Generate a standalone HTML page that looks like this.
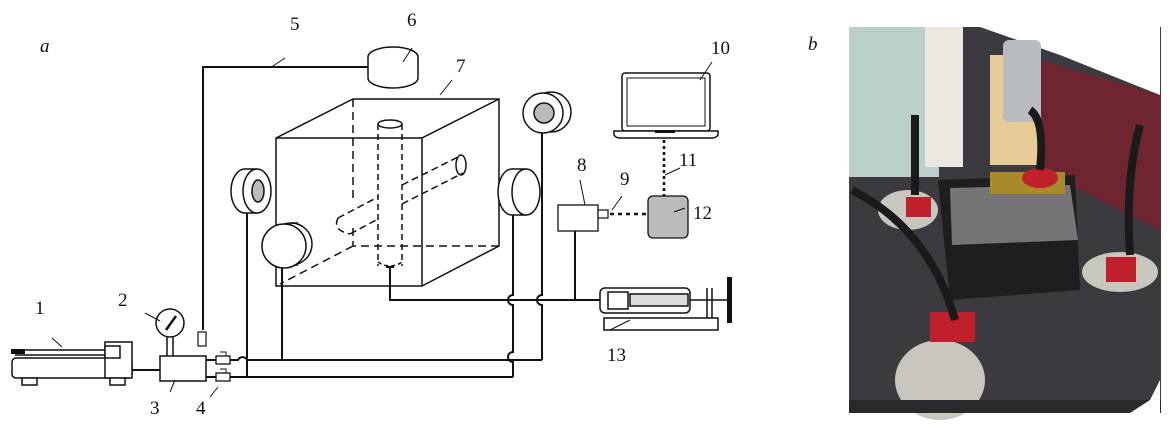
<!DOCTYPE html>
<html><head><style>
html,body{margin:0;padding:0;background:#fff;}
svg{display:block;}
text{font-family:"Liberation Serif",serif;font-size:19px;fill:#111;}
</style></head><body>
<svg width="1173" height="425" viewBox="0 0 1173 425" xmlns="http://www.w3.org/2000/svg">
<g fill="none" stroke="#111" stroke-width="2">
<path d="M203 330 V67 H368"/>
<ellipse cx="393" cy="57" rx="25" ry="10" fill="#fff" stroke-width="1.5"/>
<path d="M368 57 V78 A25 10 0 0 0 418 78 V57" fill="#fff" stroke-width="1.5"/>
<!-- cube -->
<g stroke-width="1.5">
<rect x="276" y="138" width="146" height="148" fill="#fff"/>
<path d="M276 138 L353 99 H499 V246 L422 286 M422 138 L499 99"/>
<path d="M353 99 V200 M353 228 V246 H499 M353 246 L280 284" stroke-dasharray="8 5"/>
<path d="M378 124 V266 M402 124 V266" stroke-dasharray="6 4"/>
<ellipse cx="390" cy="124" rx="12" ry="4" fill="#fff"/>
<path d="M378 262 Q390 270 402 262" stroke-dasharray="4 3"/>
<path d="M390 266 V280 M386 267 H394" stroke-width="2"/>
<path d="M338 218 L378 197 M402 185 L462 155 M350 234 L378 219 M402 204 L463 173 M338 218 Q332 230 350 234" stroke-dasharray="7 4"/>
<ellipse cx="461" cy="165" rx="5" ry="10"/>
</g>
<!-- discs -->
<g stroke-width="1.5">
<ellipse cx="245" cy="191" rx="14" ry="22" fill="#fff"/>
<rect x="245" y="169" width="12" height="44" fill="#fff" stroke="none"/>
<path d="M245 169 H257 M245 213 H257"/>
<ellipse cx="257" cy="191" rx="14" ry="22" fill="#fff"/>
<ellipse cx="258" cy="191" rx="6" ry="11" fill="#bbb"/>
<circle cx="291" cy="244" r="21" fill="#fff"/>
<path d="M291 223 H298 M291 265 H298"/>
<circle cx="284" cy="246" r="22" fill="#fff"/>
<ellipse cx="512" cy="192" rx="14" ry="23" fill="#fff"/>
<rect x="512" y="169" width="14" height="46" fill="#fff" stroke="none"/>
<path d="M512 169 H526 M512 215 H526"/>
<ellipse cx="526" cy="192" rx="14" ry="23" fill="#fff"/>
<circle cx="551" cy="112" r="20" fill="#fff"/>
<circle cx="543" cy="113" r="20" fill="#fff"/>
<circle cx="544" cy="113" r="10" fill="#bbb"/>
</g>
<!-- verticals -->
<path d="M247 213 V377"/>
<path d="M282 268 V360"/>
<path d="M513 215 V295 A5 5 0 0 0 513 305 V352 A5 5 0 0 0 513 362 V377"/>
<path d="M542 133 V295 A5 5 0 0 0 542 305 V360"/>
<path d="M575 231 V300"/>
<path d="M390 280 V300 H600"/>
<path d="M206 360 H238 A5 5 0 0 1 247 360 H542"/>
<path d="M206 377 H513"/>
<path d="M132 370 H160"/>
<!-- pump 1 -->
<g stroke-width="1.5">
<rect x="12" y="358" width="120" height="20" rx="4" fill="#fff"/>
<rect x="105" y="342" width="27" height="36" fill="#fff"/>
<rect x="105" y="346" width="15" height="12" fill="#fff"/>
<rect x="22" y="378" width="15" height="7" fill="#fff"/>
<rect x="110" y="378" width="15" height="7" fill="#fff"/>
<path d="M15 350 H105 M15 355 H105"/>
<path d="M52 338 L62 347" stroke-width="1"/>
</g>
<rect x="11" y="349" width="14" height="5" fill="#111" stroke="none"/>
<rect x="160" y="356" width="46" height="25" fill="#fff" stroke-width="1.5"/>
<path d="M167 356 V336 M173 356 V336" stroke-width="1.5"/>
<circle cx="170" cy="323" r="14" fill="#fff" stroke-width="1.5"/>
<path d="M166 330 L176 316" stroke-width="2.5"/>
<rect x="198" y="332" width="8" height="14" fill="#fff" stroke-width="1.2"/>
<rect x="216" y="356" width="14" height="8" fill="#fff" stroke-width="1.3"/>
<rect x="216" y="373" width="14" height="8" fill="#fff" stroke-width="1.3"/>
<path d="M220 352 H226 V356 M220 369 H226 V373" stroke-width="1"/>
<!-- laptop -->
<rect x="622" y="73" width="88" height="58" rx="3" fill="#fff" stroke-width="1.5"/>
<rect x="627" y="78" width="78" height="48" fill="#fff" stroke-width="1"/>
<path d="M614 131 H718 V135 Q716 138 712 138 H620 Q616 138 614 135 Z" fill="#fff" stroke-width="1.5"/>
<rect x="655" y="130" width="20" height="3" fill="#111" stroke="none"/>
<path d="M664 140 V196" stroke-dasharray="3 3" stroke-width="2.5"/>
<rect x="648" y="196" width="40" height="42" rx="5" fill="#bbb" stroke-width="1.3"/>
<rect x="558" y="205" width="40" height="26" fill="#fff" stroke-width="1.3"/>
<rect x="598" y="210" width="10" height="8" fill="#fff" stroke-width="1.2"/>
<path d="M610 214 H648" stroke-dasharray="4 4" stroke-width="2.5"/>
<g stroke-width="1.5">
<rect x="600" y="288" width="90" height="25" rx="5" fill="#fff"/>
<rect x="608" y="292" width="20" height="17" fill="#fff"/>
<rect x="630" y="294" width="58" height="12" fill="#ddd"/>
<path d="M690 300 H728 M707 288 V318 M712 288 V318"/>
<path d="M604 318 H718 V330 H604 Z" fill="#fff"/>
</g>
<rect x="727" y="277" width="5" height="46" fill="#111" stroke="none"/>
<g stroke-width="1">
<path d="M270 68 L285 58 M403 62 L412 48 M440 95 L452 80 M585 205 L580 180 M612 210 L622 196 M700 80 L712 62 M665 175 L680 168 M674 212 L685 208 M630 320 L610 330 M175 380 L170 392 M218 387 L210 397 M145 313 L160 321"/>
</g>
</g>
<text x="40" y="52" font-style="italic" font-size="20">a</text>
<text x="808" y="50" font-style="italic" font-size="20">b</text>
<text x="35" y="314">1</text>
<text x="118" y="306">2</text>
<text x="150" y="414">3</text>
<text x="196" y="414">4</text>
<text x="290" y="30">5</text>
<text x="407" y="26">6</text>
<text x="456" y="72">7</text>
<text x="577" y="171">8</text>
<text x="620" y="185">9</text>
<text x="711" y="54">10</text>
<text x="679" y="166">11</text>
<text x="693" y="219">12</text>
<text x="607" y="361">13</text>
<!-- photo -->
<g>
<rect x="849" y="27" width="312" height="386" fill="#3b3b3f"/>
<rect x="849" y="27" width="90" height="150" fill="#b9cfc8"/>
<rect x="925" y="27" width="38" height="140" fill="#ece8df"/>
<rect x="990" y="55" width="50" height="110" fill="#e8cc98"/>
<polygon points="1040,60 1160,95 1160,230 1040,170" fill="#6e2530"/>
<polygon points="980,27 1160,27 1160,95 1060,55" fill="#ffffff"/>
<rect x="1003" y="40" width="38" height="82" rx="6" fill="#b8bcc0"/>
<polygon points="938,180 1075,175 1080,290 950,300" fill="#1e1e20"/>
<polygon points="950,188 1070,185 1078,240 952,245" fill="#767474"/>
<rect x="990" y="172" width="75" height="22" fill="#a88a2a"/>
<ellipse cx="940" cy="380" rx="45" ry="40" fill="#c9c6c0"/>
<ellipse cx="1120" cy="272" rx="38" ry="20" fill="#c9c6c0"/>
<ellipse cx="908" cy="210" rx="30" ry="20" fill="#c9c6c0"/>
<rect x="930" y="312" width="45" height="30" fill="#c0202c"/>
<rect x="1106" y="257" width="30" height="25" fill="#c0202c"/>
<rect x="906" y="197" width="25" height="20" fill="#c0202c"/>
<ellipse cx="1040" cy="178" rx="18" ry="10" fill="#c0202c"/>
<rect x="849" y="400" width="312" height="13" fill="#2a2a2c"/>
<polygon points="1150,400 1160,380 1160,413 1130,413" fill="#fff"/>
<g stroke="#1a1a1a" stroke-width="8" fill="none">
<path d="M852 190 Q930 230 955 320"/>
<path d="M1140 125 Q1125 180 1130 255"/>
<path d="M915 195 V115"/>
<path d="M1040 170 Q1045 120 1030 110"/>
</g>
</g>
</svg>
</body></html>
